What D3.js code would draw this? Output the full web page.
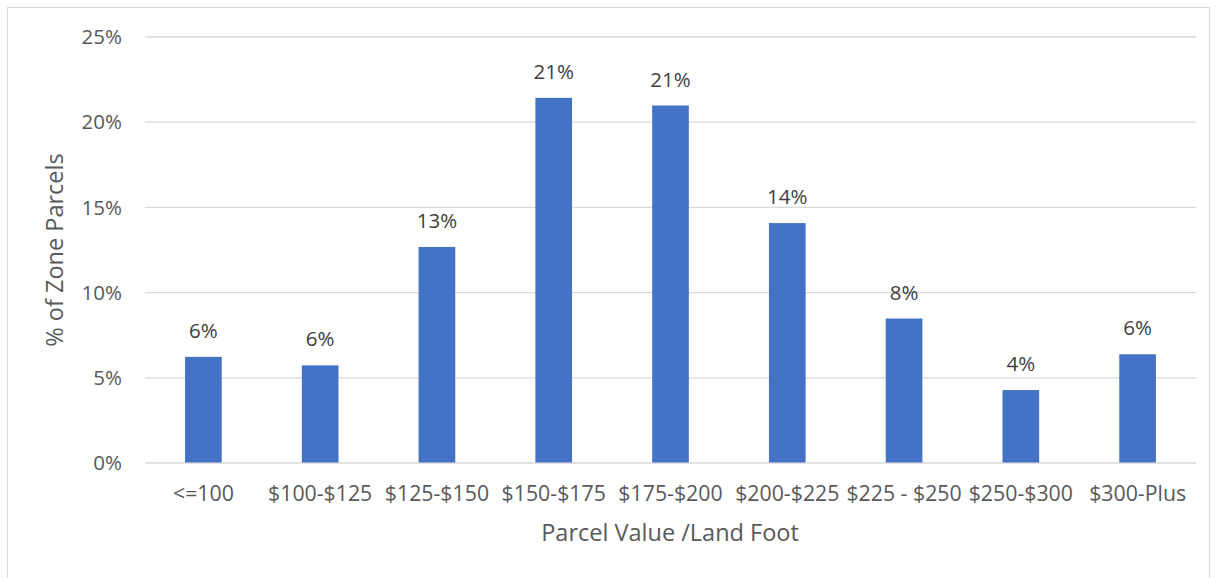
<!DOCTYPE html>
<html><head><meta charset="utf-8">
<script src="https://cdn.jsdelivr.net/npm/d3@7"></script>
<style>body{margin:0;background:#fff;} text{font-family:"Open Sans","Liberation Sans",sans-serif;}</style>
</head><body>
<svg id="chart" width="1217" height="578"></svg>
<script>
const categories = ["<=100","$100-$125","$125-$150","$150-$175","$175-$200","$200-$225","$225 - $250","$250-$300","$300-Plus"];
const values = [6.2, 5.7, 12.65, 21.4, 20.95, 14.05, 8.45, 4.25, 6.35];
const labels = ["6%","6%","13%","21%","21%","14%","8%","4%","6%"];
const yTicks = [0,5,10,15,20,25];

(function(){
const svg = d3.select("#chart");
svg.append("rect").attr("x",7.5).attr("y",7.5).attr("width",1202).attr("height",600)
  .attr("fill","#fff").attr("stroke","#d9d9d9").attr("stroke-width",1);

const mL=145, mR=1196, mT=36.5, mB=462.5;
const x = d3.scaleBand().domain(categories).range([mL,mR]).padding(0);
const y = d3.scaleLinear().domain([0,25]).range([mB,mT]);

const yAxis = d3.axisLeft(y).tickValues(yTicks).tickFormat(d=>d+"%").tickSize(-(mR-mL)).tickPadding(23);
const gy = svg.append("g").attr("transform",`translate(${mL},0)`).call(yAxis);
gy.select(".domain").remove();
gy.selectAll(".tick line").attr("stroke","#d9d9d9").attr("stroke-width",1.3);
gy.selectAll(".tick text").attr("fill","#595959").style("font-size","20.5px").attr("dy","0.35em");

const bw = x.bandwidth()*0.314;
svg.append("g").selectAll("rect").data(values).join("rect")
  .attr("x",(d,i)=>x(categories[i])+x.bandwidth()/2-bw/2)
  .attr("y",d=>y(d)).attr("width",bw).attr("height",d=>y(0)-y(d))
  .attr("fill","#4472C4");

svg.append("g").selectAll("text").data(values).join("text")
  .attr("x",(d,i)=>x(categories[i])+x.bandwidth()/2)
  .attr("y",d=>y(d)-19)
  .attr("text-anchor","middle").attr("fill","#404040").style("font-size","20.5px")
  .text((d,i)=>labels[i]);

const xAxis = d3.axisBottom(x).tickSize(0);
const gx = svg.append("g").attr("transform",`translate(0,${mB})`).call(xAxis);
gx.select(".domain").remove();
gx.selectAll(".tick text").attr("fill","#595959").style("font-size","21.3px").attr("y",38.5).attr("dy",null);

svg.append("text").attr("x",670).attr("y",541).attr("text-anchor","middle")
  .attr("fill","#595959").style("font-size","23.5px").text("Parcel Value /Land Foot");
svg.append("text").attr("transform","translate(63,250) rotate(-90)").attr("text-anchor","middle")
  .attr("fill","#595959").style("font-size","23.5px").text("% of Zone Parcels");
})();
</script>
</body></html>
